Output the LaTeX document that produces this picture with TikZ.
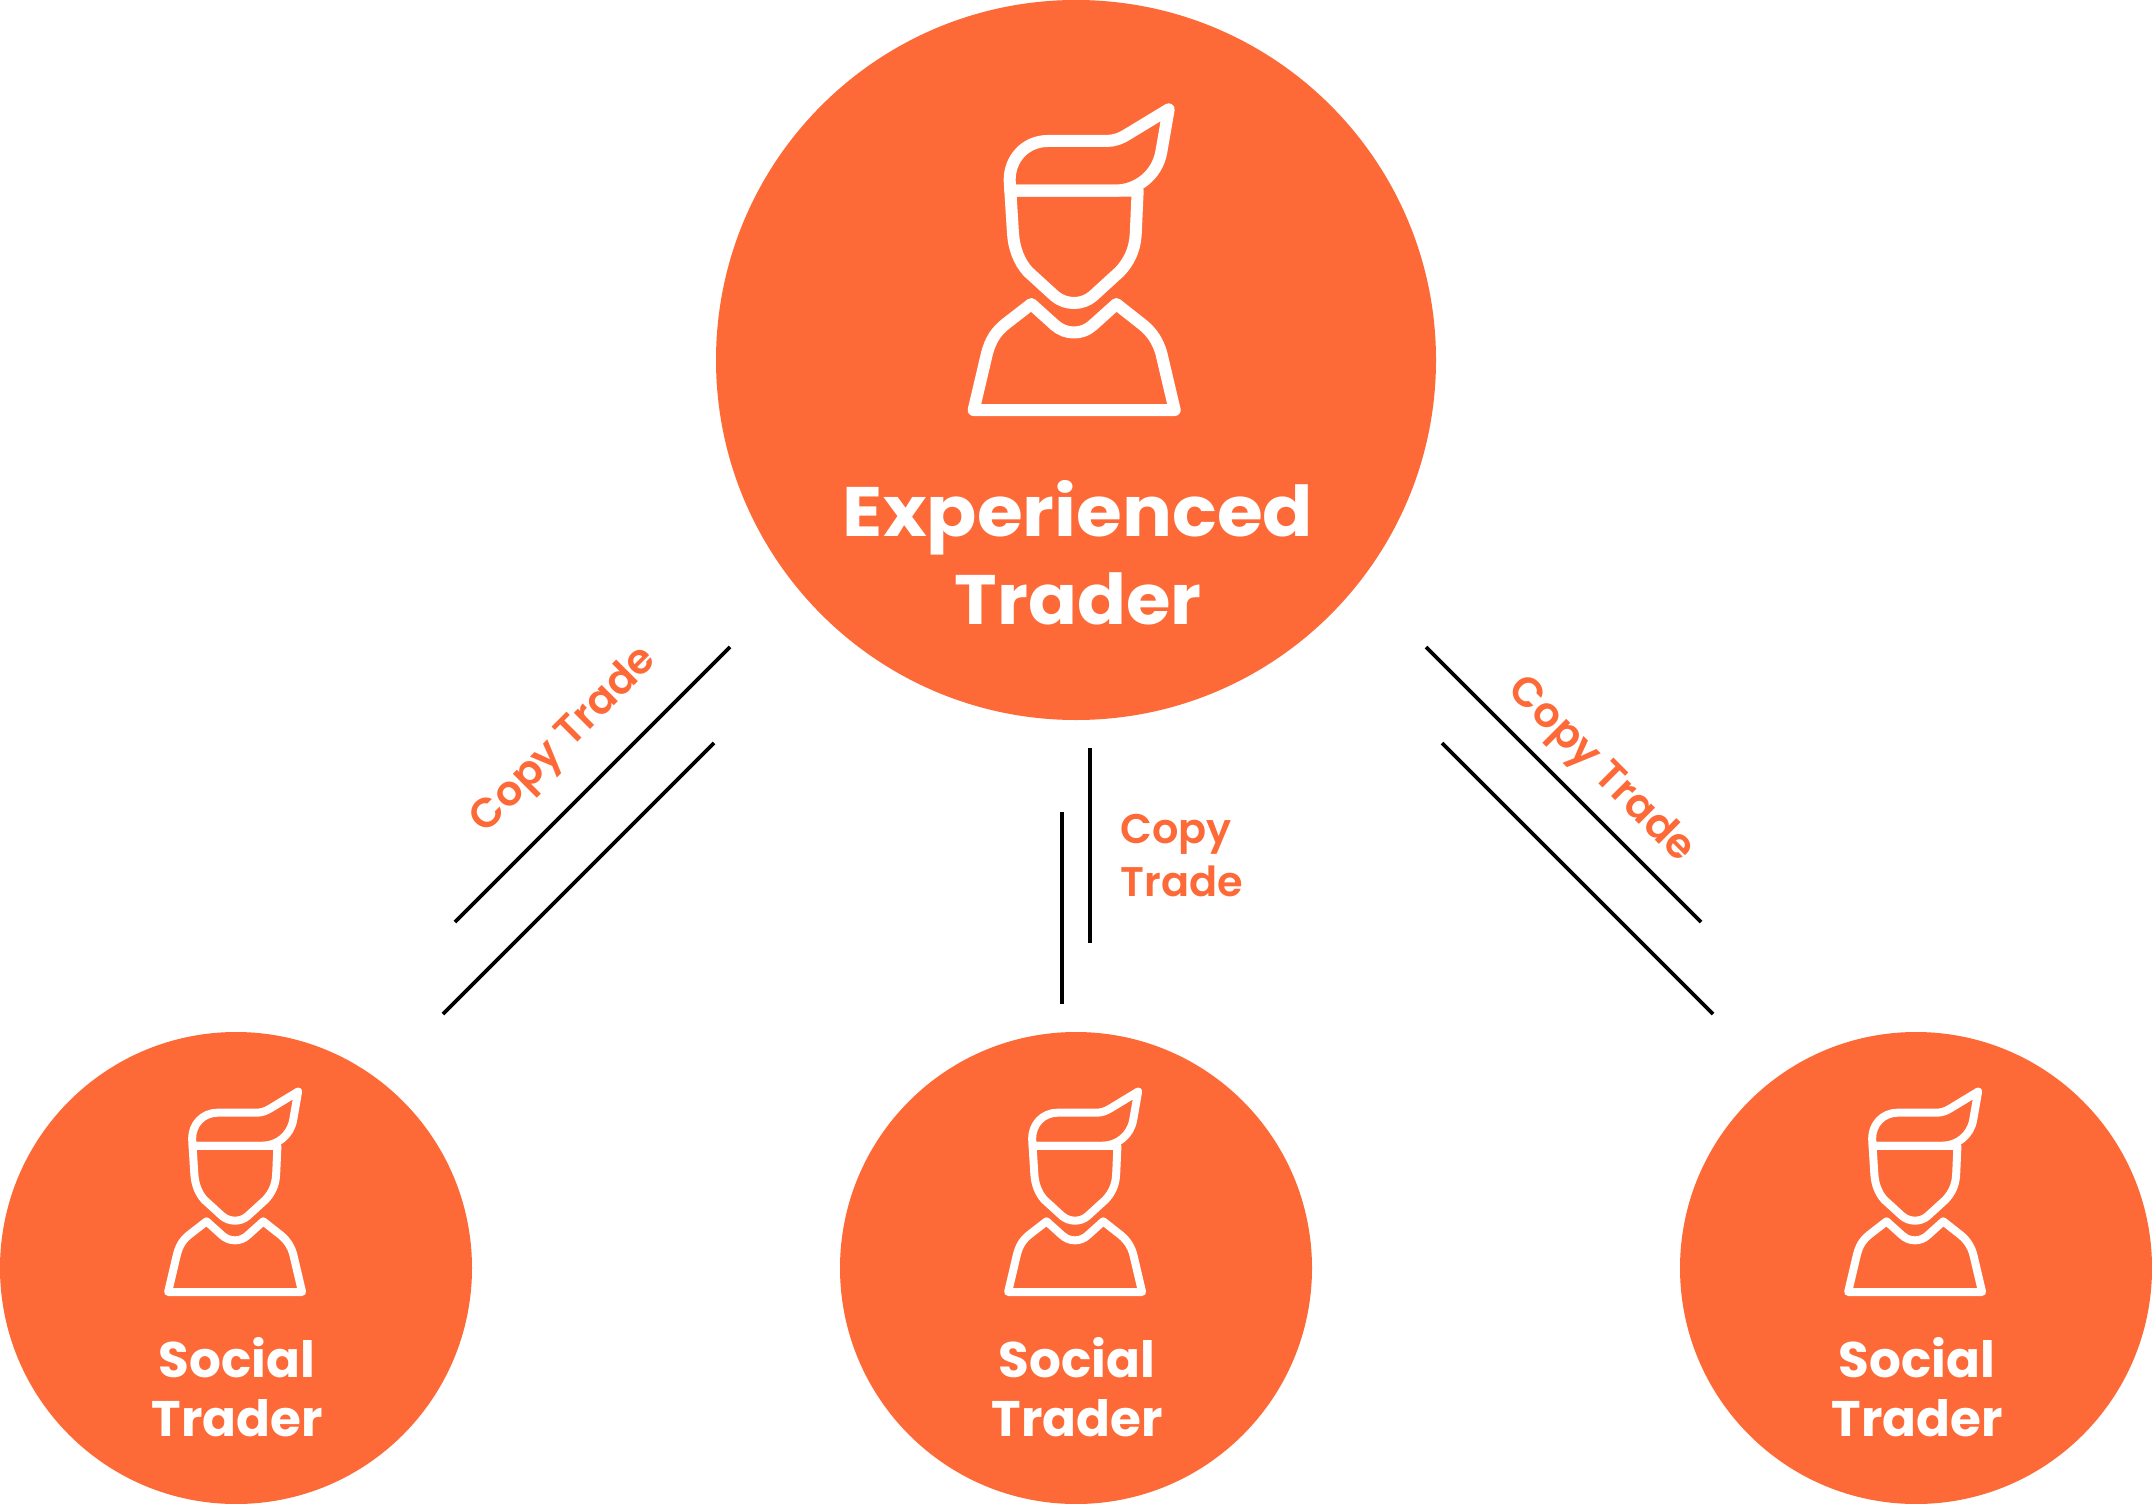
\documentclass[tikz,border=0pt]{standalone}
\usepackage{fontspec}
\setmainfont{Poppins}
\newfontfamily\semi{Poppins SemiBold}
\newfontfamily\widerbold{Poppins Bold}[FakeStretch=1.06]
\newfontfamily\widebold{Poppins Bold}[FakeStretch=1.03]
\definecolor{brand}{HTML}{FD6937}
\tikzset{
  x=0.5pt,y=-0.5pt,
  bigdisc/.style={circle,fill=brand,minimum size=360pt,inner sep=0pt},
  smalldisc/.style={circle,fill=brand,minimum size=236pt,inner sep=0pt},
  rule/.style={draw=black,line width=1.9pt},
  titlebase/.style={text=white,anchor=base,inner sep=0pt},
  subtext/.style={text=white,anchor=base,inner sep=0pt,font=\bfseries\fontsize{25}{25}\selectfont},
  linklabel/.style={text=brand,inner sep=0pt,font=\semi\fontsize{20.7}{20.7}\selectfont},
  iconline/.style={draw=white,line join=round,line cap=round},
  bigicon/.style={x=0.1667pt,y=-0.1667pt,line width=6pt},
  smallicon/.style={x=0.1111pt,y=-0.1111pt,line width=4pt},
  traderface/.pic={
    \draw[iconline] (284,-452) -- (162,-378) .. controls (140,-364) and (120,-357) .. (97,-357)
      -- (-78,-357) .. controls (-145,-357) and (-193,-305) .. (-193,-240) -- (-191,-208)
      -- (122,-208) .. controls (190,-208) and (250,-255) .. (262,-325) -- cycle;
    \draw[iconline] (191,-208) -- (-191,-208) -- (-183,-80) .. controls (-180,-35) and (-165,5) .. (-138,35)
      -- (-58,108) .. controls (-25,136) and (25,136) .. (57,108)
      -- (137,35) .. controls (165,5) and (182,-30) .. (185,-75) -- cycle;
    \draw[iconline] (-301,450) -- (-261,280) .. controls (-250,240) and (-235,215) .. (-203,190)
      -- (-128,132) -- (-58,195) .. controls (-25,225) and (25,225) .. (57,195)
      -- (127,132) -- (207,195) .. controls (235,218) and (252,245) .. (262,280)
      -- (302,450) -- cycle;
  }
}
\begin{document}
\begin{tikzpicture}
\useasboundingbox (0,0) rectangle (2152,1504);
\node[bigdisc] (expert) at (1076,360) {};
\node[smalldisc] (socialA) at (236,1268) {};
\node[smalldisc] (socialB) at (1076,1268) {};
\node[smalldisc] (socialC) at (1916,1268) {};
\coordinate (iconE) at (1074,260);
\coordinate (iconA) at (235,1192);
\coordinate (iconB) at (1075,1192);
\coordinate (iconC) at (1915,1192);
\pic[bigicon] at (iconE) {traderface};
\pic[smallicon] at (iconA) {traderface};
\pic[smallicon] at (iconB) {traderface};
\pic[smallicon] at (iconC) {traderface};
\node[titlebase,font=\widerbold\fontsize{35}{35}\selectfont] (expertA) at (1078,536) {Experienced};
\node[titlebase,font=\widebold\fontsize{35}{35}\selectfont] (expertB) at (1078,624) {Trader};
\foreach \cx/\nm in {237/a,1077/b,1917/c}{
  \node[subtext] (s\nm) at (\cx,1377) {Social};
  \node[subtext] (t\nm) at (\cx,1436) {Trader};
}
\coordinate (l1a) at (730,647); \coordinate (l1b) at (455,922);
\coordinate (l2a) at (714,743); \coordinate (l2b) at (443,1014);
\coordinate (m1a) at (1090,748); \coordinate (m1b) at (1090,943);
\coordinate (m2a) at (1062,812); \coordinate (m2b) at (1062,1004);
\coordinate (r1a) at (1426,647); \coordinate (r1b) at (1701,922);
\coordinate (r2a) at (1442,743); \coordinate (r2b) at (1713,1014);
\draw[rule] (l1a) -- (l1b);
\draw[rule] (l2a) -- (l2b);
\draw[rule] (m1a) -- (m1b);
\draw[rule] (m2a) -- (m2b);
\draw[rule] (r1a) -- (r1b);
\draw[rule] (r2a) -- (r2b);
\node[linklabel,rotate=45] (cl) at (565,741) {Copy Trade};
\node[linklabel,rotate=-45] (cr) at (1600,771) {Copy Trade};
\node[linklabel,anchor=base west] (cm1) at (1120,843) {Copy};
\node[linklabel,anchor=base west] (cm2) at (1120,896) {Trade};
\end{tikzpicture}
\end{document}
